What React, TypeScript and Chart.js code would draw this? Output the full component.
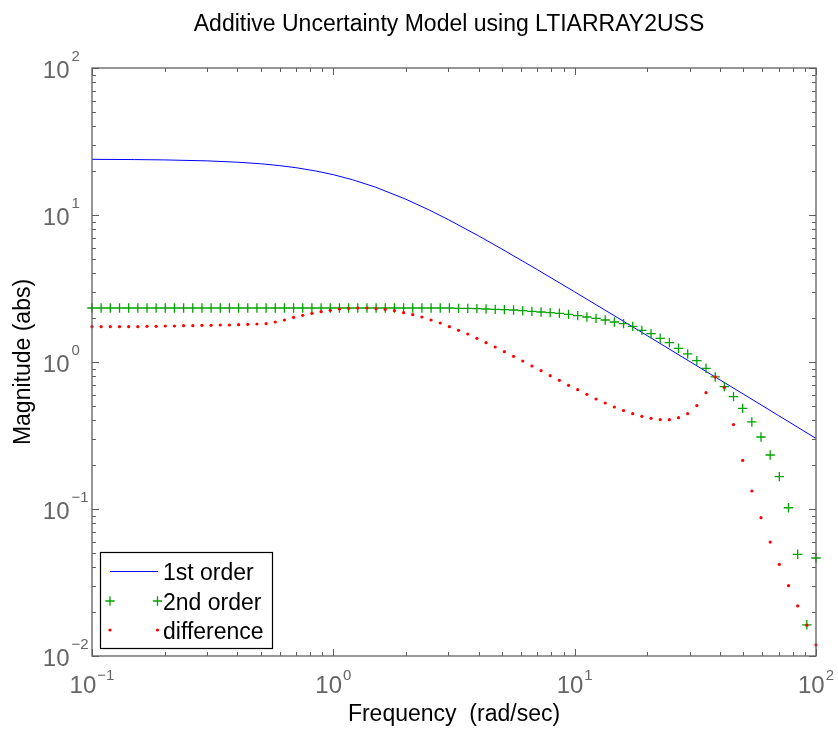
import React, { useEffect, useRef } from "react";
import { Chart, registerables } from "chart.js";

Chart.register(...registerables);

const TITLE = "Additive Uncertainty Model using LTIARRAY2USS";
const X_TITLE = "Frequency  (rad/sec)";
const Y_TITLE = "Magnitude (abs)";
const SERIES_LABELS = ["1st order", "2nd order", "difference"];
const X_DECADES = [-1, 0, 1, 2];
const Y_DECADES = [-2, -1, 0, 1, 2];

// frequency grid of the sampled models (rad/sec)
const FREQ = [
  0.1, 0.1091, 0.1191, 0.13, 0.1419, 0.1548, 0.169, 0.1844, 0.2012, 0.2196,
  0.2397, 0.2616, 0.2855, 0.3115, 0.34, 0.3711, 0.405, 0.442, 0.4824, 0.5265,
  0.5746, 0.6271, 0.6844, 0.7469, 0.8152, 0.8897, 0.9713, 1.06, 1.1569, 1.2626,
  1.378, 1.5039, 1.6413, 1.7913, 1.9549, 2.1336, 2.3285, 2.5413, 2.7735, 3.0269,
  3.3035, 3.6053, 3.9348, 4.2943, 4.6867, 5.115, 5.5824, 6.0924, 6.6491, 7.2567,
  7.9198, 8.6435, 9.4333, 10.295, 11.236, 12.263, 13.383, 14.606, 15.941, 17.397,
  18.987, 20.722, 22.616, 24.682, 26.938, 29.399, 32.086, 35.018, 38.218, 41.71,
  45.521, 49.681, 54.221, 59.175, 64.583, 70.484, 76.925, 83.954, 91.625, 100,
];

// 1st order model magnitude (continuous line)
const FIRST_FREQ = [
  0.1, 0.15, 0.2, 0.3, 0.4, 0.5, 0.6, 0.7, 0.85, 1, 1.2, 1.5, 2, 2.5, 3, 4, 5, 7,
  10, 15, 20, 30, 50, 70, 100,
];
const FIRST_MAG = [
  23.92, 23.83, 23.7, 23.35, 22.87, 22.31, 21.67, 20.98, 19.9, 18.8, 17.38, 15.44,
  12.79, 10.8, 9.29, 7.21, 5.86, 4.25, 3.0, 2.01, 1.51, 1.007, 0.605, 0.432, 0.302,
];

// 2nd order model magnitude at FREQ
const SECOND_MAG = [
  2.33, 2.33, 2.33, 2.33, 2.33, 2.33, 2.33, 2.33, 2.33, 2.33,
  2.33, 2.33, 2.33, 2.33, 2.33, 2.33, 2.33, 2.33, 2.33, 2.33,
  2.33, 2.33, 2.33, 2.33, 2.33, 2.33, 2.33, 2.33, 2.33, 2.33,
  2.33, 2.33, 2.33, 2.33, 2.33, 2.33, 2.33, 2.33, 2.33, 2.33,
  2.318, 2.318, 2.306, 2.294, 2.282, 2.27, 2.258, 2.234, 2.211, 2.188,
  2.166, 2.144, 2.11, 2.067, 2.024, 1.982, 1.931, 1.871, 1.823, 1.748,
  1.642, 1.558, 1.449, 1.354, 1.239, 1.134, 1.021, 0.906, 0.791, 0.68,
  0.581, 0.484, 0.391, 0.309, 0.233, 0.166, 0.102, 0.0492, 0.0163, 0.0464,
];

// |1st order - 2nd order| at FREQ
const DIFF_MAG = [
  1.739, 1.739, 1.739, 1.739, 1.739, 1.739, 1.748, 1.748, 1.757, 1.757,
  1.767, 1.767, 1.776, 1.776, 1.785, 1.785, 1.795, 1.804, 1.814, 1.823,
  1.871, 1.931, 2.013, 2.077, 2.144, 2.2, 2.246, 2.294, 2.318, 2.33,
  2.33, 2.306, 2.282, 2.234, 2.166, 2.099, 2.024, 1.931, 1.842, 1.739,
  1.642, 1.55, 1.449, 1.354, 1.265, 1.176, 1.093, 1.016, 0.939, 0.873,
  0.807, 0.75, 0.694, 0.648, 0.603, 0.56, 0.526, 0.494, 0.467, 0.445,
  0.427, 0.414, 0.405, 0.405, 0.418, 0.445, 0.505, 0.618, 0.791, 0.672,
  0.375, 0.214, 0.1326, 0.0873, 0.0596, 0.042, 0.0301, 0.0219, 0.0162, 0.0119,
];

const BLUE = "#0000ff";
const GREEN = "#00a400";
const RED = "#ff0000";
const AXIS = "#5e5e5e";
const LABEL_GRAY = "#666666";
const FONT = "'Liberation Sans', Arial, Helvetica, sans-serif";

function drawPlus(ctx: CanvasRenderingContext2D, x: number, y: number, r: number) {
  ctx.beginPath();
  ctx.moveTo(x - r, y);
  ctx.lineTo(x + r, y);
  ctx.moveTo(x, y - r);
  ctx.lineTo(x, y + r);
  ctx.stroke();
}

function expText(d: number) {
  return d < 0 ? "\u2212" + String(-d) : String(d);
}

const matlabAxes = {
  id: "matlabAxes",
  afterDraw(chart: any) {
    const ctx: CanvasRenderingContext2D = chart.ctx;
    const { left, right, top, bottom } = chart.chartArea;
    const xs = chart.scales.x;
    const ys = chart.scales.y;
    ctx.save();

    // frame
    ctx.strokeStyle = AXIS;
    ctx.lineWidth = 1.3;
    ctx.strokeRect(left, top, right - left, bottom - top);

    // ticks
    ctx.lineWidth = 1;
    const major = 7;
    const minor = 4;
    ctx.beginPath();
    X_DECADES.forEach((d) => {
      const base = Math.pow(10, d);
      const px = Math.round(xs.getPixelForValue(base)) + 0.5;
      ctx.moveTo(px, bottom);
      ctx.lineTo(px, bottom - major);
      ctx.moveTo(px, top);
      ctx.lineTo(px, top + major);
      if (d < X_DECADES[X_DECADES.length - 1]) {
        for (let m = 2; m <= 9; m++) {
          const p = Math.round(xs.getPixelForValue(m * base)) + 0.5;
          ctx.moveTo(p, bottom);
          ctx.lineTo(p, bottom - minor);
          ctx.moveTo(p, top);
          ctx.lineTo(p, top + minor);
        }
      }
    });
    Y_DECADES.forEach((d) => {
      const base = Math.pow(10, d);
      const py = Math.round(ys.getPixelForValue(base)) + 0.5;
      ctx.moveTo(left, py);
      ctx.lineTo(left + major, py);
      ctx.moveTo(right, py);
      ctx.lineTo(right - major, py);
      if (d < Y_DECADES[Y_DECADES.length - 1]) {
        for (let m = 2; m <= 9; m++) {
          const p = Math.round(ys.getPixelForValue(m * base)) + 0.5;
          ctx.moveTo(left, p);
          ctx.lineTo(left + minor, p);
          ctx.moveTo(right, p);
          ctx.lineTo(right - minor, p);
        }
      }
    });
    ctx.stroke();

    // tick labels (10 with superscript exponent)
    const baseFont = `24px ${FONT}`;
    const expFont = `15px ${FONT}`;
    ctx.fillStyle = LABEL_GRAY;
    ctx.textBaseline = "alphabetic";
    ctx.textAlign = "left";
    X_DECADES.forEach((d) => {
      const px = xs.getPixelForValue(Math.pow(10, d));
      ctx.font = baseFont;
      const wb = ctx.measureText("10").width;
      ctx.font = expFont;
      const e = expText(d);
      const we = ctx.measureText(e).width;
      const x0 = px - (wb + 1 + we) / 2;
      ctx.font = baseFont;
      ctx.fillText("10", x0, bottom + 37);
      ctx.font = expFont;
      ctx.fillText(e, x0 + wb + 1, bottom + 24);
    });
    Y_DECADES.forEach((d) => {
      const py = ys.getPixelForValue(Math.pow(10, d));
      ctx.font = baseFont;
      const wb = ctx.measureText("10").width;
      const xr = left - 22.5;
      ctx.fillText("10", xr - wb, py + 9.5);
      ctx.font = expFont;
      ctx.fillText(expText(d), xr + 2, py - 7);
    });

    // title and axis titles
    ctx.fillStyle = "#000000";
    ctx.font = `23px ${FONT}`;
    ctx.textAlign = "center";
    ctx.fillText(TITLE, 449, 31);
    ctx.fillText(X_TITLE, (left + right) / 2, bottom + 65);
    ctx.save();
    ctx.translate(left - 68, (top + bottom) / 2);
    ctx.rotate(-Math.PI / 2);
    ctx.textBaseline = "middle";
    ctx.fillText(Y_TITLE, 0, 0);
    ctx.restore();

    // legend
    const lx = 100.5;
    const ly = 552.5;
    const lw = 172;
    const lh = 96;
    ctx.fillStyle = "#ffffff";
    ctx.fillRect(lx, ly, lw, lh);
    ctx.strokeStyle = "#000000";
    ctx.lineWidth = 1.2;
    ctx.strokeRect(lx, ly, lw, lh);
    const rows = [571, 601, 630];
    const ds = chart.data.datasets;
    const labels = ds.map((d: any, i: number) => d.label || SERIES_LABELS[i]);
    // row 1: line
    ctx.strokeStyle = BLUE;
    ctx.lineWidth = 1;
    ctx.beginPath();
    ctx.moveTo(110, rows[0] + 0.5);
    ctx.lineTo(158, rows[0] + 0.5);
    ctx.stroke();
    // row 2: plus markers
    ctx.strokeStyle = GREEN;
    ctx.lineWidth = 1.3;
    drawPlus(ctx, 110, rows[1], 4.7);
    drawPlus(ctx, 157.5, rows[1], 4.7);
    // row 3: dots
    ctx.fillStyle = RED;
    [110, 157.5].forEach((x) => {
      ctx.beginPath();
      ctx.arc(x, rows[2], 1.6, 0, Math.PI * 2);
      ctx.fill();
    });
    ctx.fillStyle = "#000000";
    ctx.font = `23px ${FONT}`;
    ctx.textAlign = "left";
    ctx.textBaseline = "alphabetic";
    labels.forEach((t: string, i: number) => {
      ctx.fillText(t, 163, rows[i] + 8.5);
    });

    ctx.restore();
  },
};

export default function App() {
  const canvasRef = useRef<HTMLCanvasElement | null>(null);

  useEffect(() => {
    document.body.style.margin = "0";
    const canvas = canvasRef.current;
    if (!canvas) return;
    const chart = new Chart(canvas, {
      type: "scatter",
      data: {
        datasets: [
          {
            label: SERIES_LABELS[0],
            data: FIRST_FREQ.map((f, i) => ({ x: f, y: FIRST_MAG[i] })),
            showLine: true,
            borderColor: BLUE,
            backgroundColor: BLUE,
            borderWidth: 1,
            pointRadius: 0,
            tension: 0,
            order: 2,
          },
          {
            label: SERIES_LABELS[1],
            data: FREQ.map((f, i) => ({ x: f, y: SECOND_MAG[i] })),
            showLine: false,
            pointStyle: "cross",
            pointRadius: 4.7,
            borderColor: GREEN,
            backgroundColor: GREEN,
            borderWidth: 1.3,
            order: 1,
            clip: false,
          },
          {
            label: SERIES_LABELS[2],
            data: FREQ.map((f, i) => ({ x: f, y: DIFF_MAG[i] })),
            showLine: false,
            pointStyle: "circle",
            pointRadius: 1.6,
            borderWidth: 0,
            borderColor: RED,
            backgroundColor: RED,
            order: 0,
            clip: false,
          },
        ],
      },
      options: {
        animation: false,
        responsive: false,
        devicePixelRatio: 1,
        events: [],
        layout: { padding: { left: 0, right: 22, top: 68, bottom: 0 } },
        plugins: {
          legend: { display: false },
          title: { display: false },
          tooltip: { enabled: false },
        },
        scales: {
          x: {
            type: "logarithmic",
            min: 0.1,
            max: 100,
            ticks: { display: false },
            grid: { display: false },
            border: { display: false },
            afterFit: (s: any) => {
              s.height = 74;
            },
          },
          y: {
            type: "logarithmic",
            min: 0.01,
            max: 100,
            ticks: { display: false },
            grid: { display: false },
            border: { display: false },
            afterFit: (s: any) => {
              s.width = 92;
            },
          },
        },
      } as any,
      plugins: [matlabAxes],
    });
    return () => chart.destroy();
  }, []);

  return (
    <div style={{ position: "absolute", left: 0, top: 0, width: 838, height: 730, background: "#ffffff" }}>
      <canvas ref={canvasRef} width={838} height={730} style={{ display: "block" }} />
    </div>
  );
}
